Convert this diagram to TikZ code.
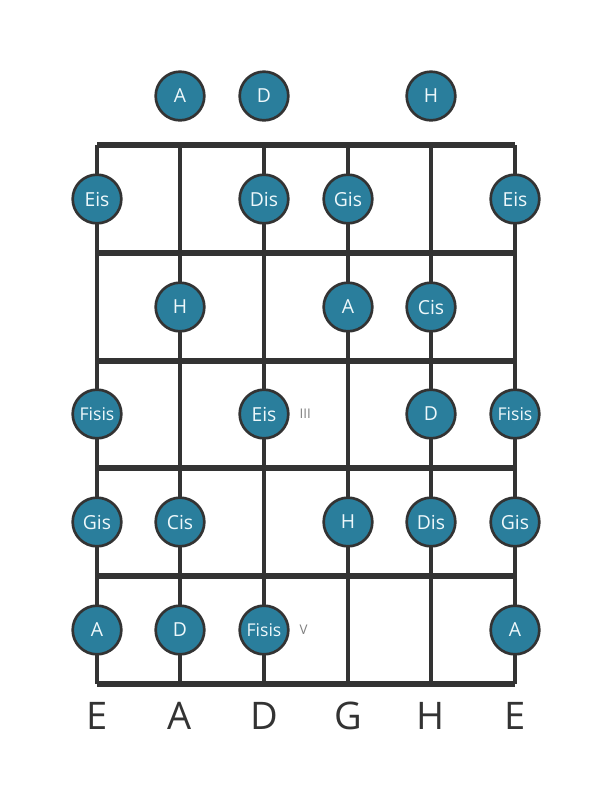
\documentclass[tikz,border=0pt]{standalone}
\usepackage{fontspec}
\setmainfont{Open Sans}
\usepackage{xcolor}
\usetikzlibrary{positioning}
\definecolor{primary}{HTML}{2A7E9C}
\definecolor{linea}{HTML}{333333}
\definecolor{claro}{HTML}{EEF8FB}
\tikzset{
  nota/.style={circle, draw=linea, line width=2pt, fill=primary, text=claro, minimum size=36.5pt, inner sep=0pt, font=\fontsize{14.5}{14.5}\selectfont},
  notachica/.style={nota, font=\fontsize{13.2}{13.2}\selectfont},
  cuerda/.style={line width=2.3pt, color=linea},
  traste/.style={line width=4pt, color=linea},
  dedo/.style={text=gray, font=\fontsize{10}{10}\selectfont}
}
\begin{document}
\begin{tikzpicture}[x=0.75pt, y=-0.75pt]
        \useasboundingbox (0,0) rectangle (611,801);
        % Cuerdas
        \foreach \s/\x in {1/97, 2/180, 3/264, 4/348, 5/431, 6/515}
            \draw[cuerda] (\x,145) -- (\x,684);
        % Trastes
        \foreach \t/\y in {0/145, 1/253, 2/361, 3/468, 4/576, 5/684}
            \draw[traste] (97,\y) -- (515,\y);
        % Notas al aire
        \node[nota] (o2) at (180,96) {A};
        \node[nota] (o3) at (264,96) {D};
        \node[nota] (o5) at (431,96) {H};
        % Traste 1
        \node[nota] (n11) at (97,199) {Eis};
        \node[nota] (n13) at (264,199) {Dis};
        \node[nota] (n14) at (348,199) {Gis};
        \node[nota] (n16) at (515,199) {Eis};
        % Traste 2
        \node[nota] (n22) at (180,307) {H};
        \node[nota] (n24) at (348,307) {A};
        \node[nota] (n25) at (431,307) {Cis};
        % Traste 3
        \node[notachica] (n31) at (97,414) {Fisis};
        \node[nota] (n33) at (264,414) {Eis};
        \node[nota] (n35) at (431,414) {D};
        \node[notachica] (n36) at (515,414) {Fisis};
        \node[dedo, right=4pt of n33] (m3) {III};
        % Traste 4
        \node[nota] (n41) at (97,522) {Gis};
        \node[nota] (n42) at (180,522) {Cis};
        \node[nota] (n44) at (348,522) {H};
        \node[nota] (n45) at (431,522) {Dis};
        \node[nota] (n46) at (515,522) {Gis};
        % Traste 5
        \node[nota] (n51) at (97,630) {A};
        \node[nota] (n52) at (180,630) {D};
        \node[notachica] (n53) at (264,630) {Fisis};
        \node[nota] (n56) at (515,630) {A};
        \node[dedo, right=4pt of n53] (m5) {V};
        % Afinacion
        \foreach \s/\x/\n in {1/97/E, 2/180/A, 3/264/D, 4/348/G, 5/431/H, 6/515/E}
            \node[text=linea, font=\fontsize{28.5}{28.5}\selectfont] (c\s) at (\x,716) {\n};
    \end{tikzpicture}
\end{document}
